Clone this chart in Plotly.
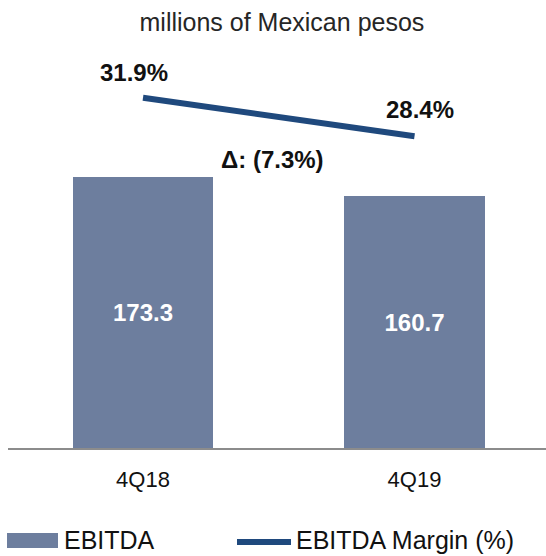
import plotly.graph_objects as go

# Quarterly EBITDA and EBITDA margin
quarters = ["4Q18", "4Q19"]
ebitda = [173.3, 160.7]          # millions of Mexican pesos
margin = [31.9, 28.4]            # EBITDA margin, %
change_label = "Δ: (7.3%)"

W, H = 546, 556
L, R, T, B = 8, 0, 50, 108
PW, PH = W - L - R, H - T - B

BAR_COLOR = "#6d7e9e"
LINE_COLOR = "#1f497d"
FONT = "Liberation Sans, Arial, sans-serif"


def px_x(px):
    return (px - L) / PW


def px_y(py):
    return (H - B - py) / PH


fig = go.Figure()

fig.add_trace(go.Bar(
    x=quarters, y=ebitda, name="EBITDA",
    marker=dict(color=BAR_COLOR, line=dict(width=0)),
    width=0.516,
    text=[f"{v:.1f}" for v in ebitda],
    textposition="inside", insidetextanchor="middle",
    textfont=dict(family=FONT, size=24, color="white", weight="bold"),
    showlegend=False,
))

fig.add_trace(go.Scatter(
    x=quarters, y=margin, name="EBITDA Margin (%)", yaxis="y2",
    mode="lines", line=dict(color=LINE_COLOR, width=6),
    showlegend=False,
))

annotations = []
# margin labels next to the line ends
offsets = [(-9, 25), (5, 27)]
for q, m, (dx, dy) in zip(quarters, margin, offsets):
    annotations.append(dict(
        x=q, y=m, xref="x", yref="y2", text=f"{m:.1f}%", showarrow=False,
        xshift=dx, yshift=dy,
        font=dict(family=FONT, size=24, color="#111111", weight="bold"),
    ))

annotations.append(dict(
    x=px_x(272), y=px_y(159), xref="paper", yref="paper", text=change_label,
    showarrow=False, xanchor="center", yanchor="middle",
    font=dict(family=FONT, size=24, color="#111111", weight="bold"),
))

# legend drawn below the axis
shapes = [
    dict(type="rect", xref="paper", yref="paper",
         x0=px_x(7), x1=px_x(58), y0=px_y(548), y1=px_y(533),
         fillcolor=BAR_COLOR, line=dict(width=0)),
    dict(type="line", xref="paper", yref="paper",
         x0=px_x(237), x1=px_x(291), y0=px_y(542), y1=px_y(542),
         line=dict(color=LINE_COLOR, width=6)),
]
annotations += [
    dict(x=px_x(62), y=px_y(540), xref="paper", yref="paper", text="EBITDA",
         showarrow=False, xanchor="left", yanchor="middle",
         font=dict(family=FONT, size=25, color="#111111")),
    dict(x=px_x(294), y=px_y(540), xref="paper", yref="paper",
         text="EBITDA Margin (%)", showarrow=False, xanchor="left", yanchor="middle",
         font=dict(family=FONT, size=25, color="#111111")),
]

fig.update_layout(
    width=W, height=H,
    margin=dict(l=L, r=R, t=T, b=B),
    paper_bgcolor="white", plot_bgcolor="white",
    title=dict(text="millions of Mexican pesos", x=278 / W, y=1 - 22 / H,
               xanchor="center", yanchor="middle", xref="paper",
               font=dict(family=FONT, size=25, color="#262626")),
    xaxis=dict(range=[-0.4972, 1.4843], showgrid=False, showline=True,
               linecolor="#8c8c8c", linewidth=2, ticks="", ticklabelstandoff=11,
               tickfont=dict(family=FONT, size=22, color="#111111"), fixedrange=True),
    yaxis=dict(range=[0, PH / 1.566], visible=False, fixedrange=True),
    yaxis2=dict(range=[0, PH / 10.98], overlaying="y", visible=False, fixedrange=True),
    annotations=annotations, shapes=shapes,
    showlegend=False, bargap=0,
)

fig.write_html("out.html")
